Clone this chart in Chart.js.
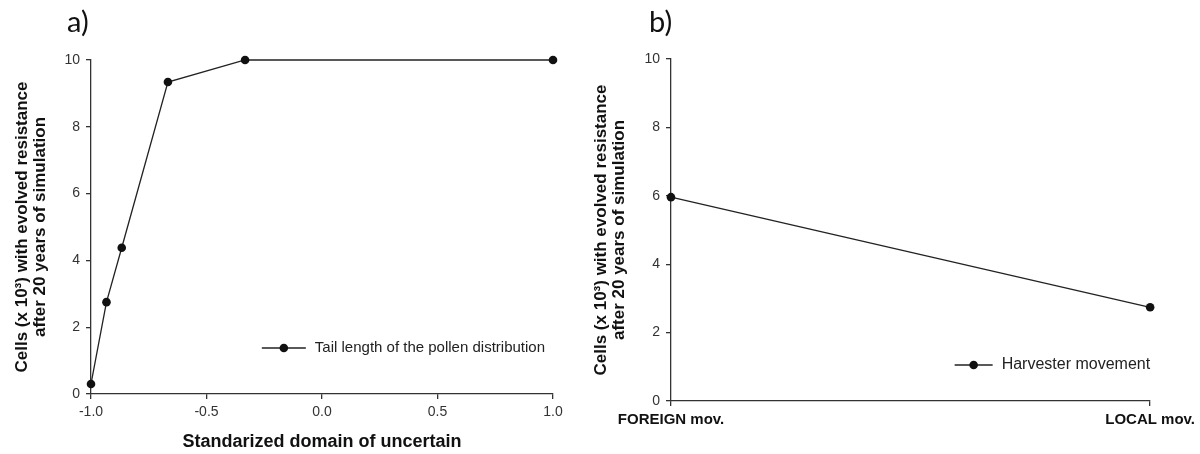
<!DOCTYPE html>
<html>
<head>
<meta charset="utf-8">
<script src="https://cdn.jsdelivr.net/npm/chart.js@4.4.1/dist/chart.umd.min.js"></script>
<style>
    body { margin: 0; background: #fff; width: 1200px; height: 454px; position: relative; overflow: hidden; }
    .panel { position: absolute; top: 0; height: 454px; }
    #panel-a { left: 0; width: 600px; }
    #panel-b { left: 588px; width: 612px; }
    .tag { position: absolute; top: 6px; font-family: Lato, "Open Sans", sans-serif; font-size: 29px; line-height: 29px; color: #111; }
</style>
</head>
<body>
<div class="panel" id="panel-a"><canvas id="chart-a" width="600" height="454"></canvas></div>
<div class="panel" id="panel-b"><canvas id="chart-b" width="612" height="454"></canvas></div>
<div class="tag" style="left:67px">a)</div>
<div class="tag" style="left:649px">b)</div>
<script>
/********
 * Data *
 ********/
// a) tail length of the pollen distribution
const tailX = [-1.0, -0.933, -0.867, -0.667, -0.333, 1.0];
const tailY = [0.3, 2.75, 4.38, 9.34, 10, 10];
const xTickValues = [-1.0, -0.5, 0.0, 0.5, 1.0];

// b) harvester movement
const moveLabels = ['FOREIGN mov.', 'LOCAL mov.'];
const moveY = [5.96, 2.74];

const yTickValues = [0, 2, 4, 6, 8, 10];
const yAxisTitle = ['Cells (x 10\u00B3) with evolved resistance', 'after 20 years of simulation'];

const baseFont = '"Liberation Sans", Arial, sans-serif';
const axisColor = '#333';

/**
 * Draws the small legend inside the plot area.
 */
const insideLegend = {
    id: 'insideLegend',
    afterDraw(chart, args, opts) {
        const {ctx, chartArea} = chart;
        const label = chart.data.datasets[0].label;
        ctx.save();
        ctx.font = opts.size + 'px ' + baseFont;
        const textWidth = ctx.measureText(label).width;
        const textLeft = chartArea.right - opts.right - textWidth;
        const y = chartArea.bottom - opts.bottom;
        const lineEnd = textLeft - opts.gap;
        const lineStart = lineEnd - opts.lineLength;

        ctx.strokeStyle = '#222';
        ctx.lineWidth = 1.3;
        ctx.beginPath();
        ctx.moveTo(lineStart, y);
        ctx.lineTo(lineEnd, y);
        ctx.stroke();

        ctx.fillStyle = '#111';
        ctx.beginPath();
        ctx.arc((lineStart + lineEnd) / 2, y, 4.3, 0, Math.PI * 2);
        ctx.fill();

        ctx.fillStyle = '#222';
        ctx.textAlign = 'left';
        ctx.textBaseline = 'middle';
        ctx.fillText(label, textLeft, y);
        ctx.restore();
    }
};

function lineDataset(label, data) {
    return {
        label: label,
        data: data,
        borderColor: '#222',
        borderWidth: 1.3,
        pointRadius: 4.3,
        pointBackgroundColor: '#111',
        pointBorderColor: '#111',
        pointBorderWidth: 0,
        tension: 0,
        clip: false
    };
}

function yScale(axisWidth, titlePad) {
    return {
        min: 0,
        max: 10,
        afterBuildTicks: scale => { scale.ticks = yTickValues.map(v => ({value: v})); },
        afterFit: scale => { scale.width = axisWidth; },
        ticks: { color: axisColor, padding: 6, font: { family: baseFont, size: 14 } },
        grid: { drawOnChartArea: false, tickLength: 5, color: axisColor, lineWidth: 1.3 },
        border: { color: axisColor, width: 1.3 },
        title: {
            display: true,
            text: yAxisTitle,
            color: '#111',
            padding: { top: titlePad, bottom: 0 },
            font: { family: baseFont, size: 17, weight: 'bold', lineHeight: 1.05 }
        }
    };
}

Chart.defaults.animation = false;

new Chart(document.getElementById('chart-a'), {
    type: 'line',
    data: {
        datasets: [lineDataset('Tail length of the pollen distribution',
            tailX.map((x, i) => ({x: x, y: tailY[i]})))]
    },
    options: {
        responsive: false,
        devicePixelRatio: 1,
        layout: { padding: { top: 60, right: 47, left: 0, bottom: 0 } },
        plugins: {
            legend: { display: false },
            tooltip: { enabled: false },
            insideLegend: { size: 15, right: 8, bottom: 46, gap: 9, lineLength: 44 }
        },
        scales: {
            x: {
                type: 'linear',
                min: -1,
                max: 1,
                afterBuildTicks: scale => { scale.ticks = xTickValues.map(v => ({value: v})); },
                afterFit: scale => { scale.height = 60; },
                ticks: {
                    color: axisColor,
                    padding: 5,
                    font: { family: baseFont, size: 14 },
                    callback: value => value.toFixed(1)
                },
                grid: { drawOnChartArea: false, tickLength: 5, color: axisColor, lineWidth: 1.3 },
                border: { color: axisColor, width: 1.3 },
                title: {
                    display: true,
                    text: 'Standarized domain of uncertain',
                    color: '#111',
                    padding: { top: 0, bottom: 1 },
                    font: { family: baseFont, size: 18, weight: 'bold', lineHeight: 1.2 }
                }
            },
            y: yScale(91, 13.6)
        }
    },
    plugins: [insideLegend]
});

new Chart(document.getElementById('chart-b'), {
    type: 'line',
    data: {
        labels: moveLabels,
        datasets: [lineDataset('Harvester movement', moveY)]
    },
    options: {
        responsive: false,
        devicePixelRatio: 1,
        layout: { padding: { top: 59, right: 48, left: 0, bottom: 0 } },
        plugins: {
            legend: { display: false },
            tooltip: { enabled: false },
            insideLegend: { size: 16, right: 0, bottom: 36, gap: 9, lineLength: 38 }
        },
        scales: {
            x: {
                type: 'category',
                offset: false,
                afterFit: scale => { scale.height = 53; },
                ticks: {
                    color: '#111',
                    padding: 5,
                    font: { family: baseFont, size: 15, weight: 'bold' }
                },
                grid: { drawOnChartArea: false, offset: false, tickLength: 5, color: axisColor, lineWidth: 1.3 },
                border: { color: axisColor, width: 1.3 }
            },
            y: yScale(83, 4.5)
        }
    },
    plugins: [insideLegend]
});
</script>
</body>
</html>
